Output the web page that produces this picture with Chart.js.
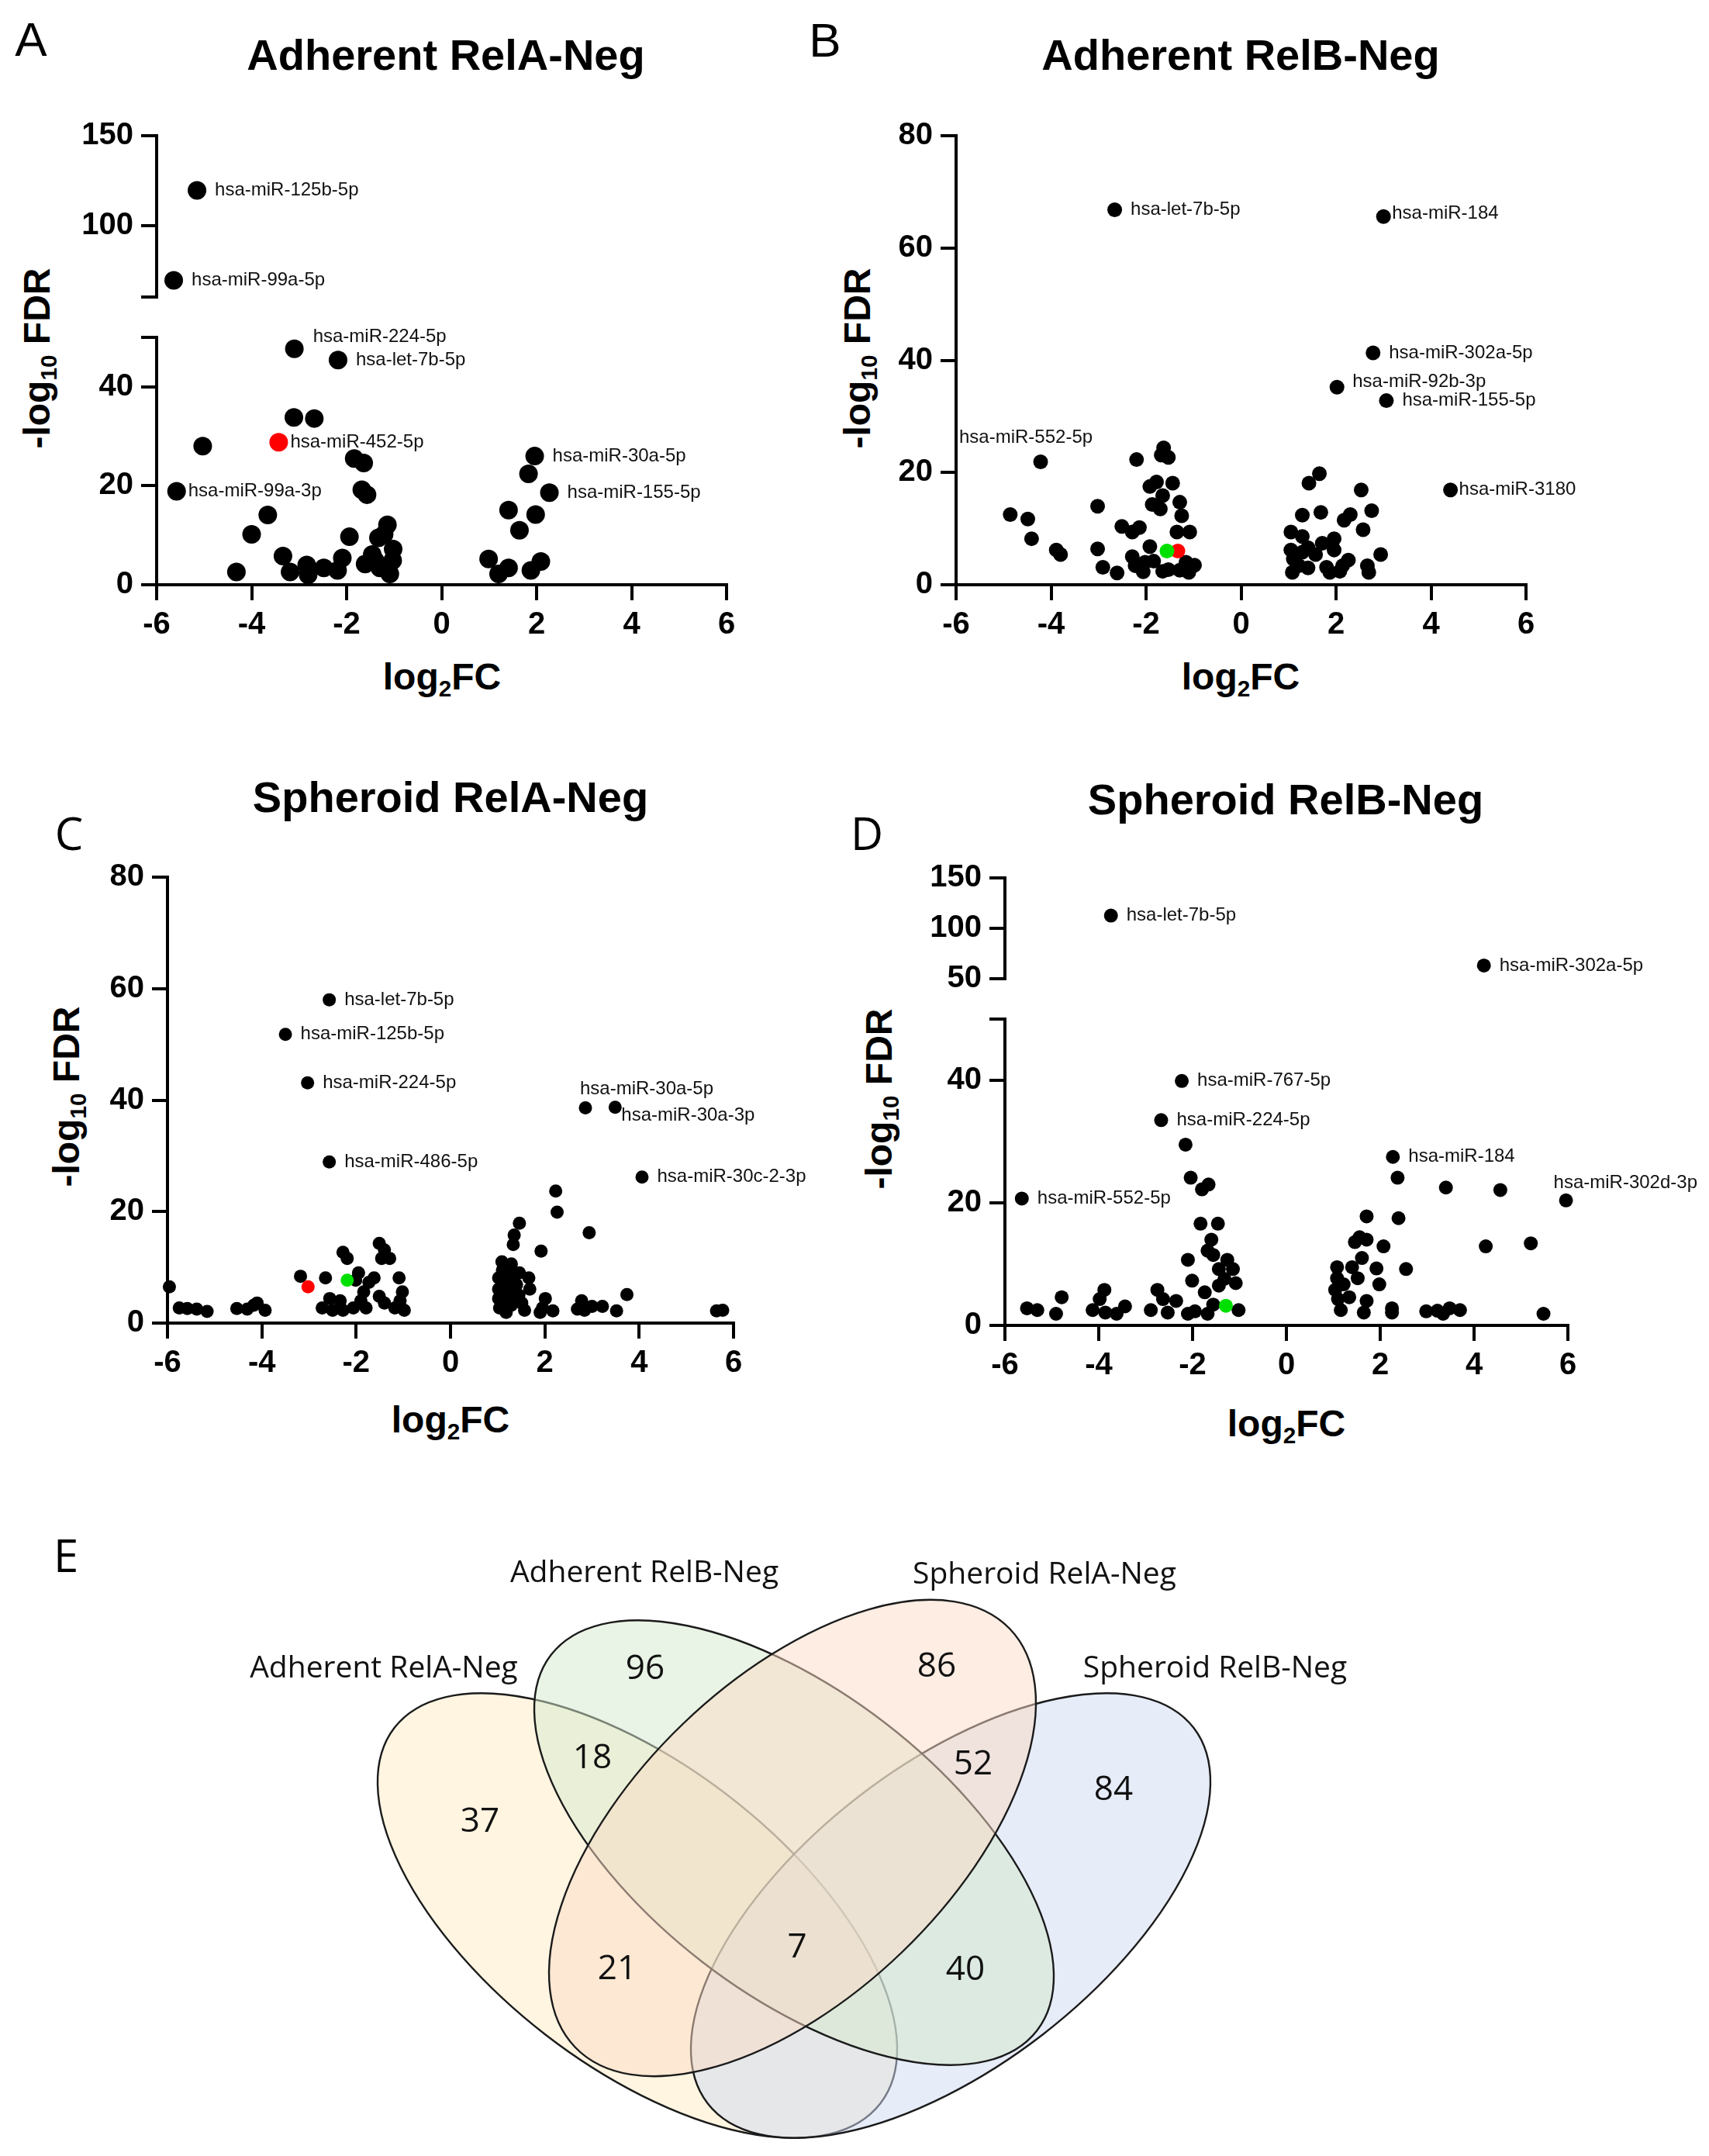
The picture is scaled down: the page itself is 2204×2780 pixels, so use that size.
<!DOCTYPE html>
<html>
<head>
<meta charset="utf-8">
<script src="https://cdn.jsdelivr.net/npm/chart.js@4.4.0/dist/chart.umd.min.js"></script>
<style>
  body { margin: 0; background: #fff; width: 2204px; height: 2780px; position: relative; overflow: hidden; }
  canvas { position: absolute; }
  .t { position: absolute; transform: translate(-50%, -50%); white-space: nowrap; line-height: 1; color: #000;
       font-family: "Liberation Sans", Arial, sans-serif; }
  .letter { font-size: 62px; }
  .letter.cal { font-family: "Open Sans", sans-serif; font-size: 58px; }
  .title { font-size: 56px; font-weight: bold; }
  .axt { font-size: 48px; font-weight: bold; }
  .axt sub { font-size: 0.62em; vertical-align: -0.3em; line-height: 0; }
  .yt { transform: translate(-50%, -50%) rotate(-90deg); }
</style>
</head>
<body>

<div class="t letter" style="left:40px;top:51px">A</div>
<div class="t letter" style="left:1064px;top:52px">B</div>
<div class="t letter cal" style="left:89px;top:1074px">C</div>
<div class="t letter cal" style="left:1118px;top:1074px">D</div>
<div class="t letter cal" style="left:85px;top:2005px">E</div>

<div class="t title" style="left:575px;top:71px">Adherent RelA-Neg</div>
<div class="t title" style="left:1600px;top:71px">Adherent RelB-Neg</div>
<div class="t title" style="left:581px;top:1028px">Spheroid RelA-Neg</div>
<div class="t title" style="left:1658px;top:1031px">Spheroid RelB-Neg</div>

<div class="t axt" style="left:570px;top:873px">log<sub>2</sub>FC</div>
<div class="t axt" style="left:1600px;top:873px">log<sub>2</sub>FC</div>
<div class="t axt" style="left:581px;top:1831px">log<sub>2</sub>FC</div>
<div class="t axt" style="left:1659px;top:1836px">log<sub>2</sub>FC</div>

<div class="t axt yt" style="left:48px;top:462px">-log<sub>10</sub> FDR</div>
<div class="t axt yt" style="left:1106px;top:462px">-log<sub>10</sub> FDR</div>
<div class="t axt yt" style="left:86px;top:1414px">-log<sub>10</sub> FDR</div>
<div class="t axt yt" style="left:1134px;top:1417px">-log<sub>10</sub> FDR</div>

<script>
// --- Panel A: Adherent RelA-Neg (labelled points first) ---
const aNames = ["hsa-miR-125b-5p", "hsa-miR-99a-5p", "hsa-miR-224-5p", "hsa-let-7b-5p", "hsa-miR-99a-3p", "hsa-miR-30a-5p", "hsa-miR-155-5p"];
const aFC  = [-5.15, -5.64, -3.10, -2.18, -5.58, 1.96, 2.27,
  -3.11, -2.68, -5.03, -1.84, -1.64, -1.68, -1.57, -3.66, -4.00, -4.32, -3.34, -3.19, -2.84, -2.81, -2.48, -2.19,
  -2.09, -1.94, -1.33, -1.14, -1.21, -1.02, -1.61, -1.40, -1.30, -1.09, -1.03, -1.46,
  1.83, 1.41, 1.98, 1.64, 0.99, 1.20, 1.41, 1.88, 2.09];
const aFDR = [119.5, 69.3, 47.7, 45.4, 18.9, 26.0, 18.6,
  33.8, 33.6, 28.0, 25.5, 24.6, 19.2, 18.2, 14.1, 10.2, 2.6, 5.8, 2.6, 4.0, 2.0, 3.4, 2.9,
  5.4, 9.7, 9.5, 12.1, 10.2, 7.2, 4.2, 4.9, 3.4, 2.2, 4.9, 6.1,
  22.4, 15.1, 14.2, 11.0, 5.2, 2.2, 3.4, 2.9, 4.7];
const aRedNames = ["hsa-miR-452-5p"];
const aRedFC = [-3.43];
const aRedFDR = [28.8];

// --- Panel B: Adherent RelB-Neg ---
const bNames = ["hsa-let-7b-5p", "hsa-miR-184", "hsa-miR-302a-5p", "hsa-miR-92b-3p", "hsa-miR-155-5p", "hsa-miR-552-5p", "hsa-miR-3180"];
const bFC  = [-2.66, 3.00, 2.78, 2.02, 3.06, -4.22, 4.41,
  -4.86, -4.49, -4.41, -3.89, -3.80, -3.02, -3.02, -2.91, -2.61, -2.51, -2.29, -2.14, -2.20, -2.29, -2.23, -2.06,
  -1.92, -1.84, -1.92, -1.78, -1.87, -1.65, -1.70, -1.63, -1.68, -1.53, -1.44, -1.29, -1.25, -1.35, -1.08, -1.16,
  -0.98, -1.53, -1.29, -1.65, -1.10, -2.02,
  1.05, 1.05, 1.10, 1.08, 1.29, 1.29, 1.22, 1.41, 1.43, 1.65, 1.68, 1.57, 1.71, 1.80, 1.96, 1.96, 1.87,
  2.17, 2.30, 2.14, 2.26, 2.53, 2.57, 2.75, 2.66, 2.69, 2.94, 1.41, 1.29, 2.08];
const bFDR = [66.8, 65.6, 41.3, 35.2, 32.8, 21.9, 16.9,
  12.5, 11.7, 8.2, 6.2, 5.4, 14.0, 6.4, 3.1, 2.1, 10.4, 9.4, 10.2, 22.3, 5.0, 3.4, 2.3,
  6.8, 4.2, 17.5, 18.3, 14.3, 15.9, 13.5, 24.4, 23.1, 22.7, 18.1, 14.7, 12.3, 9.4, 9.4, 4.0,
  3.5, 2.7, 2.6, 2.4, 2.2, 4.0,
  9.4, 6.2, 4.6, 2.2, 12.4, 8.6, 3.4, 3.0, 18.1, 19.8, 12.9, 5.4, 7.4, 3.1, 8.2, 6.2, 2.2,
  11.5, 12.5, 3.4, 4.4, 16.9, 9.8, 13.2, 3.4, 2.2, 5.4, 6.6, 5.8, 2.4];
const bRedFC = [-1.33], bRedFDR = [6.0];
const bGreenFC = [-1.56], bGreenFDR = [6.0];

// --- Panel C: Spheroid RelA-Neg ---
const cNames = ["hsa-let-7b-5p", "hsa-miR-125b-5p", "hsa-miR-224-5p", "hsa-miR-486-5p", "hsa-miR-30a-5p", "hsa-miR-30a-3p", "hsa-miR-30c-2-3p"];
const cFC  = [-2.57, -3.50, -3.03, -2.57, 2.86, 3.49, 4.06,
  2.23, 2.26, 1.46, 2.94, 1.35, 1.33, 1.92, 1.09, 1.29, 1.66, 1.02, 1.02, 1.02, 1.04, 1.18, 1.24, 1.35, 1.40,
  1.29, 1.46, 1.51, 1.57, 1.18, 1.68, 2.01, 1.95, 2.17, 1.90, 2.78, 2.84, 3.00, 3.22, 2.69, 3.52, 3.74, 5.64, 5.77,
  1.10, 1.20, 1.30, 1.15, 1.45,
  -5.96, -5.75, -5.58, -5.38, -5.16, -4.53, -4.17, -4.10, -3.93, -4.31, -3.18, -2.65, -2.28, -2.19, -2.72, -2.50,
  -2.34, -2.06, -1.95, -1.84, -1.79, -1.62, -1.51, -1.40, -1.46, -1.29, -1.51, -1.40, -1.18, -1.09, -1.02, -1.07,
  -0.98, -1.73, -1.90, -2.56, -2.28, -2.01];
const cFDR = [58.0, 51.8, 43.1, 28.9, 38.6, 38.7, 26.2,
  23.7, 19.9, 17.9, 16.2, 15.8, 14.1, 12.9, 11.0, 10.6, 8.1, 8.1, 6.1, 4.4, 2.7, 7.3, 9.0, 4.8, 6.9,
  3.2, 9.0, 3.6, 2.3, 1.9, 6.1, 4.4, 2.7, 2.2, 1.9, 4.0, 2.3, 3.0, 3.0, 2.5, 2.2, 5.1, 2.2, 2.3,
  9.5, 5.5, 8.0, 3.5, 5.0,
  6.5, 2.7, 2.6, 2.5, 2.1, 2.6, 3.2, 3.6, 2.3, 2.5, 8.4, 8.1, 12.7, 11.6, 2.7, 2.3,
  4.0, 2.7, 9.0, 5.6, 2.7, 8.1, 14.3, 13.1, 11.6, 11.6, 4.8, 3.6, 2.7, 8.1, 5.6, 4.0,
  2.3, 7.3, 4.0, 4.4, 2.3, 7.7];
const cRedFC = [-3.02], cRedFDR = [6.5];
const cGreenFC = [-2.19], cGreenFDR = [7.7];

// --- Panel D: Spheroid RelB-Neg ---
const dNames = ["hsa-let-7b-5p", "hsa-miR-302a-5p", "hsa-miR-767-5p", "hsa-miR-224-5p", "hsa-miR-184", "hsa-miR-552-5p", "hsa-miR-302d-3p"];
const dFC  = [-3.74, 4.21, -2.23, -2.67, 2.27, -5.64, 5.96,
  -2.15, -2.04, -1.80, -1.66, 2.37, 3.40, 4.56, 2.39, 1.71, 4.25, 5.21, 5.48, 2.55, 2.07, 1.98, 1.92, 1.56, 1.46,
  1.71, 1.61, 1.40, 1.52, 1.71, 1.65, 1.08, 1.08, 1.04, 1.10, 1.16, 1.22, 1.34, 2.25, 2.25, 2.98, 3.22, 3.34, 3.48, 3.70,
  -5.53, -5.31, -4.91, -4.79, -4.13, -3.98, -3.88, -3.86, -3.62, -3.44, -2.89, -2.75, -2.63, -2.53, -2.35, -2.10,
  -2.10, -2.01, -1.83, -1.46, -1.60, -1.68, -1.56, -1.44, -1.26, -1.14, -1.08, -1.32, -1.02, -1.68, -1.95, -1.74,
  -1.44, -1.56];
const dFDR = [112.6, 63.1, 39.9, 33.5, 27.5, 20.7, 20.4,
  29.5, 24.1, 22.2, 23.0, 24.1, 22.5, 22.1, 17.5, 17.8, 12.9, 13.4, 1.9, 9.2, 12.9, 6.7, 9.3, 14.4, 13.6,
  14.0, 11.0, 9.5, 7.7, 4.0, 2.1, 9.5, 7.7, 5.8, 4.3, 2.5, 6.7, 4.6, 2.8, 2.1, 2.3, 2.4, 1.9, 2.8, 2.5,
  2.8, 2.5, 1.9, 4.6, 2.5, 4.3, 5.8, 2.1, 1.9, 3.1, 2.5, 5.8, 4.3, 2.1, 4.0, 1.9,
  10.7, 7.3, 16.6, 16.6, 14.0, 12.2, 11.5, 9.2, 10.7, 9.2, 6.9, 7.6, 2.5, 1.9, 2.3, 5.4,
  6.5, 3.4];
const dGreenFC = [-1.29], dGreenFDR = [3.2];

// --- Venn (E) ---
const vennSets   = ["Adherent RelA-Neg", "Adherent RelB-Neg", "Spheroid RelA-Neg", "Spheroid RelB-Neg"];
const vennCounts = [37, 96, 18, 86, 52, 84, 21, 7, 40];

// layout / style (kept apart from the data)
const PAD_L = 170, PAD_T = 30, PAD_R = 290, PAD_B = 110;
const BLACK = "#000000", RED = "#ff0000", GREEN = "#00e000";
const labelNudge = {
  A: { "hsa-miR-224-5p": [24, -15], "hsa-miR-452-5p": [15, 0], "hsa-miR-99a-3p": [15, 0] },
  B: { "hsa-miR-184": [11, -4], "hsa-miR-92b-3p": [20, -7], "hsa-miR-552-5p": [-105, -31], "hsa-miR-3180": [11, 0] },
  C: { "hsa-miR-30a-5p": [-7, -24], "hsa-miR-30a-3p": [8, 11] },
  D: { "hsa-miR-302d-3p": [-16, -22] }
};
const vennCentre = [[-2.02, 3.10], [0.0, 4.04], [-0.02, 4.10], [2.02, 3.10]];
const vennAxes   = [[3.96, 1.94], [3.96, 1.94], [3.89, 2.04], [3.96, 1.94]];
const vennTilt   = [37.7, 37.7, -43.9, -37.7];
const vennFill   = ["rgba(255,236,196,0.5)", "rgba(213,233,205,0.5)", "rgba(251,219,197,0.5)", "rgba(205,217,241,0.5)"];
const vennDrawOrder = [0, 3, 1, 2];
const vennSetPos   = [[-5.29, 6.28], [-1.93, 7.51], [3.23, 7.49], [5.43, 6.28]];
const vennCountPos = [[-4.05, 4.31], [-1.92, 6.28], [-2.60, 5.13], [1.84, 6.31], [2.31, 5.05], [4.12, 4.72], [-2.28, 2.41], [0.04, 2.69], [2.21, 2.40]];

Chart.defaults.font.family = '"Liberation Sans", Arial, sans-serif';
Chart.defaults.color = "#000";

function points(fc, fdr, names) {
  return fc.map((x, i) => ({ x: x, y: fdr[i], name: (names && names[i]) || "" }));
}

// --- point labels ---
const pointLabels = {
  id: "pointLabels",
  afterDatasetsDraw(chart, args, opts) {
    const ctx = chart.ctx;
    ctx.save();
    ctx.font = '24px "Liberation Sans", Arial, sans-serif';
    ctx.fillStyle = "#111";
    ctx.textBaseline = "middle";
    chart.data.datasets.forEach((ds, di) => {
      const meta = chart.getDatasetMeta(di);
      ds.data.forEach((p, i) => {
        if (!p.name) return;
        const el = meta.data[i];
        const n = (opts.nudge && opts.nudge[p.name]) || [ds.pointRadius + 11, 0];
        ctx.fillText(p.name, el.x + n[0], el.y + n[1]);
      });
    });
    ctx.restore();
  }
};

// --- one scatter part (a broken axis uses two of them) ---
function scatterPart(box, yMin, yMax, yTicks, yShown, showX, sets, r, nudge) {
  const cv = document.createElement("canvas");
  const w = PAD_L + box.w + PAD_R;
  const h = PAD_T + box.h + (showX ? PAD_B : PAD_T);
  cv.width = w; cv.height = h;
  cv.style.left = (box.x - PAD_L) + "px";
  cv.style.top = (box.y - PAD_T) + "px";
  cv.style.width = w + "px"; cv.style.height = h + "px";
  document.body.appendChild(cv);

  const tickFont = { size: 40, weight: "bold" };
  const grid = { drawOnChartArea: false, drawTicks: true, tickLength: 20, lineWidth: 4, color: "#000" };
  const border = { display: true, width: 4, color: "#000" };

  return new Chart(cv, {
    type: "scatter",
    data: {
      datasets: sets.map(s => ({
        data: s.pts.filter(p => p.y >= yMin && p.y <= yMax),
        backgroundColor: s.color,
        pointRadius: r, pointHoverRadius: r, pointBorderWidth: 0,
        order: s.order, clip: false
      }))
    },
    options: {
      responsive: false, animation: false, devicePixelRatio: 1,
      layout: { padding: { left: 0, top: PAD_T, right: PAD_R, bottom: showX ? 0 : PAD_T } },
      plugins: { legend: { display: false }, tooltip: { enabled: false }, pointLabels: { nudge: nudge } },
      scales: {
        x: {
          type: "linear", min: -6, max: 6, display: showX,
          afterFit: s => { s.height = showX ? PAD_B : 0; },
          ticks: { stepSize: 2, font: tickFont, color: "#000", padding: 8, maxRotation: 0, autoSkip: false },
          grid: grid, border: border
        },
        y: {
          type: "linear", min: yMin, max: yMax,
          afterBuildTicks: s => { s.ticks = yTicks.map(v => ({ value: v })); },
          afterFit: s => { s.width = PAD_L; },
          ticks: { callback: v => (yShown.includes(v) ? String(v) : ""), font: tickFont, color: "#000", padding: 10 },
          grid: grid, border: border
        }
      }
    },
    plugins: [pointLabels]
  });
}

// --- Panel A (broken axis) ---
const aSets = [
  { pts: points(aFC, aFDR, aNames), color: BLACK, order: 2 },
  { pts: points(aRedFC, aRedFDR, aRedNames), color: RED, order: 1 }
];
scatterPart({ x: 202, y: 171, w: 735, h: 216 }, 60, 150, [60, 100, 150], [100, 150], false, aSets, 12, labelNudge.A);
scatterPart({ x: 202, y: 431, w: 735, h: 323 }, 0, 50, [0, 20, 40, 50], [0, 20, 40], true, aSets, 12, labelNudge.A);

// --- Panel B ---
scatterPart({ x: 1233, y: 171, w: 735, h: 583 }, 0, 80, [0, 20, 40, 60, 80], [0, 20, 40, 60, 80], true, [
  { pts: points(bFC, bFDR, bNames), color: BLACK, order: 2 },
  { pts: points(bRedFC, bRedFDR), color: RED, order: 1 },
  { pts: points(bGreenFC, bGreenFDR), color: GREEN, order: 0 }
], 9.5, labelNudge.B);

// --- Panel C ---
scatterPart({ x: 216, y: 1127, w: 730, h: 579 }, 0, 80, [0, 20, 40, 60, 80], [0, 20, 40, 60, 80], true, [
  { pts: points(cFC, cFDR, cNames), color: BLACK, order: 2 },
  { pts: points(cRedFC, cRedFDR), color: RED, order: 1 },
  { pts: points(cGreenFC, cGreenFDR), color: GREEN, order: 0 }
], 8.5, labelNudge.C);

// --- Panel D (broken axis) ---
const dSets = [
  { pts: points(dFC, dFDR, dNames), color: BLACK, order: 2 },
  { pts: points(dGreenFC, dGreenFDR), color: GREEN, order: 0 }
];
scatterPart({ x: 1296, y: 1128, w: 726, h: 138 }, 50, 150, [50, 100, 150], [50, 100, 150], false, dSets, 9, labelNudge.D);
scatterPart({ x: 1296, y: 1310, w: 726, h: 399 }, 0, 50, [0, 20, 40, 50], [0, 20, 40], true, dSets, 9, labelNudge.D);

// --- Venn diagram (E) ---
const vennDraw = {
  id: "vennDraw",
  beforeDatasetsDraw(chart) {
    const { ctx, scales: { x, y } } = chart;
    const k = x.getPixelForValue(1) - x.getPixelForValue(0);
    ctx.save();
    vennDrawOrder.forEach(i => {
      ctx.beginPath();
      ctx.ellipse(x.getPixelForValue(vennCentre[i][0]), y.getPixelForValue(vennCentre[i][1]),
        vennAxes[i][0] * k, vennAxes[i][1] * k, vennTilt[i] * Math.PI / 180, 0, 2 * Math.PI);
      ctx.fillStyle = vennFill[i];
      ctx.fill();
      ctx.strokeStyle = "#1b1b1b";
      ctx.lineWidth = 2.4;
      ctx.stroke();
    });
    ctx.restore();
  },
  afterDatasetsDraw(chart) {
    const { ctx, scales: { x, y } } = chart;
    ctx.save();
    ctx.fillStyle = "#111";
    ctx.textAlign = "center";
    ctx.textBaseline = "middle";
    ctx.font = '39px "Open Sans", sans-serif';
    vennSets.forEach((s, i) => ctx.fillText(s, x.getPixelForValue(vennSetPos[i][0]), y.getPixelForValue(vennSetPos[i][1])));
    ctx.font = '44px "Open Sans", sans-serif';
    const meta = chart.getDatasetMeta(0);
    vennCounts.forEach((c, i) => ctx.fillText(String(c), meta.data[i].x, meta.data[i].y));
    ctx.restore();
  }
};

const vc = document.createElement("canvas");
vc.width = 1500; vc.height = 820;
vc.style.left = "274px"; vc.style.top = "1960px";
vc.style.width = "1500px"; vc.style.height = "820px";
document.body.appendChild(vc);
new Chart(vc, {
  type: "scatter",
  data: { datasets: [{ data: vennCountPos.map(p => ({ x: p[0], y: p[1] })), pointRadius: 0, pointHoverRadius: 0 }] },
  options: {
    responsive: false, animation: false, devicePixelRatio: 1,
    layout: { padding: 0 },
    plugins: { legend: { display: false }, tooltip: { enabled: false } },
    scales: {
      x: { type: "linear", min: -7.5, max: 7.5, display: false },
      y: { type: "linear", min: 0, max: 8.2, display: false }
    }
  },
  plugins: [vennDraw]
});
</script>
</body>
</html>
